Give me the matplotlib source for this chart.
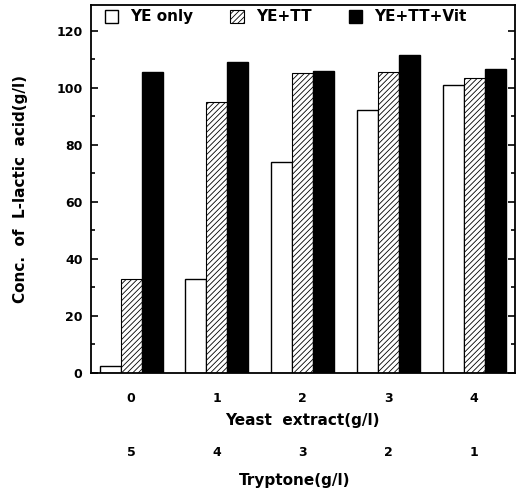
import matplotlib
matplotlib.use("Agg")
import matplotlib.pyplot as plt
import numpy as np
import matplotlib.transforms as mtransforms

plt.rcParams['font.family'] = ['DejaVu Sans']
plt.rcParams['font.weight'] = 'bold'
plt.rcParams['hatch.linewidth'] = 0.6

yeast = ['0', '1', '2', '3', '4']
tryptone = ['5', '4', '3', '2', '1']
ye_only = [2.5, 33, 74, 92, 101]
ye_tt = [33, 95, 105, 105.5, 103.5]
ye_tt_vit = [105.5, 109, 106, 111.5, 106.5]

fig = plt.figure(figsize=(5.22, 4.92), dpi=100)
ax = fig.add_axes([0.174, 0.242, 0.813, 0.748])
x = np.arange(len(yeast))
w = 0.245
ax.bar(x - w, ye_only, w, color='white', edgecolor='black', linewidth=1.0, label='YE only')
ax.bar(x, ye_tt, w, color='white', edgecolor='black', hatch='//////', linewidth=0.8, label='YE+TT')
ax.bar(x + w, ye_tt_vit, w, color='black', edgecolor='black', linewidth=1.0, label='YE+TT+Vit')

ax.set_xlim(-0.47, 4.48)
ax.set_ylim(0, 129)
ax.set_yticks(np.arange(0, 121, 20))
ax.set_yticks(np.arange(0, 121, 10), minor=True)
ax.tick_params(axis='y', which='both', direction='in', right=True, labelsize=9, width=1.2, pad=6)
ax.tick_params(axis='y', which='major', length=5)
ax.tick_params(axis='y', which='minor', length=3)
ax.set_xticks(x)
ax.set_xticklabels(yeast)
ax.tick_params(axis='x', length=0, labelsize=9, pad=14)
for s in ax.spines.values():
    s.set_linewidth(1.3)

ax.set_ylabel('Conc.  of  L-lactic  acid(g/l)', fontsize=11, fontweight='bold', labelpad=20)

trans = mtransforms.blended_transform_factory(ax.transData, fig.transFigure)
for xi, t in zip(x, tryptone):
    ax.text(xi, 1 - 452/492, t, transform=trans, ha='center', va='center', fontsize=9, fontweight='bold')
xc = ax.transData.transform((2, 0))[0] / fig.bbox.width
fig.text(xc, 1 - 420/492, 'Yeast  extract(g/l)', ha='center', va='center', fontsize=11, fontweight='bold')
fig.text(xc - 8/522, 1 - 480/492, 'Tryptone(g/l)', ha='center', va='center', fontsize=11, fontweight='bold')

ax.legend(loc='upper left', ncol=3, frameon=False, fontsize=11, handlelength=0.9, handleheight=0.9,
          columnspacing=2.4, handletextpad=0.8, bbox_to_anchor=(0.0, 1.025))

fig.savefig('out.png', dpi=100)
